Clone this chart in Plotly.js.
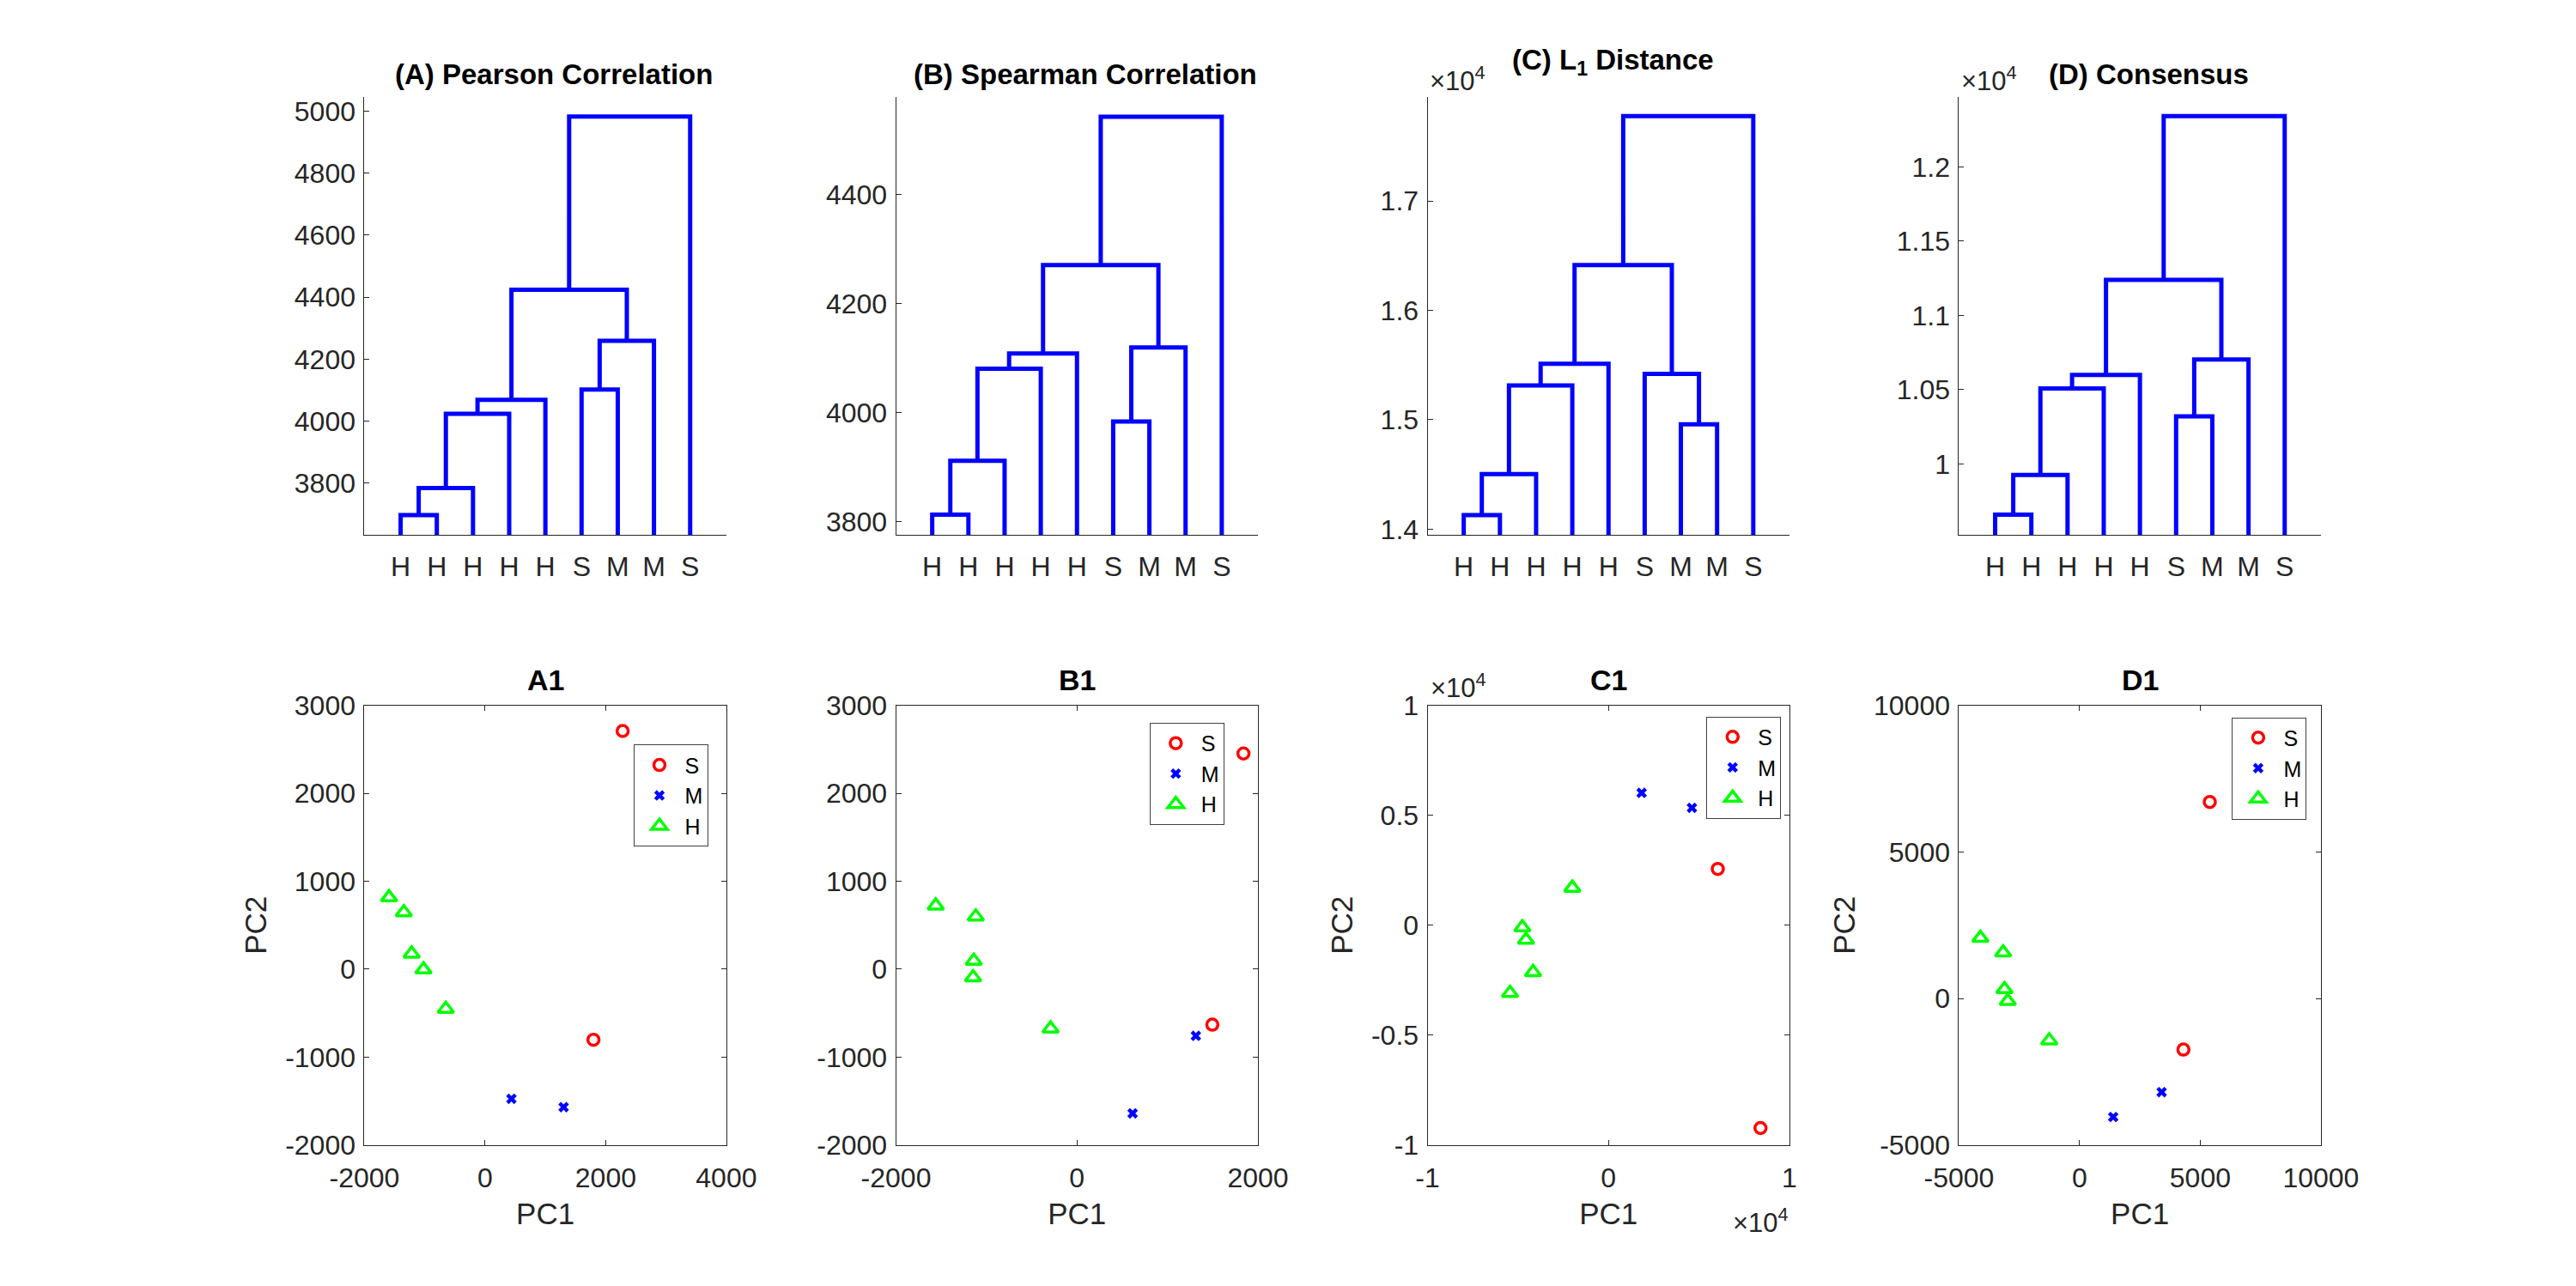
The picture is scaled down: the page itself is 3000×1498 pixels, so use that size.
<!DOCTYPE html>
<html><head><meta charset="utf-8">
<script src="https://cdn.plot.ly/plotly-3.0.1.min.js"></script>
<style>html,body{margin:0;padding:0;background:#fff}</style>
</head><body><div id="chart" style="width:3000px;height:1498px"></div>
<script>
// ---------- data ----------
const leafLabels = ['H','H','H','H','H','S','M','M','S'];
const leafPos = [1,2,3,4,5,6,7,8,9];
// merge structure (leaves 1..9, merged clusters numbered 10..17)
const treeLeftABD  = [1,10,11,12,6,14,13,16];
const treeRightABD = [2,3,4,5,7,8,15,9];
const treeLeftC    = [1,10,11,12,7,6,13,16];
const treeRightC   = [2,3,4,5,8,14,15,9];
const heightsA = [3697,3784,4024,4069,4102,4259,4424,4983];
const heightsB = [3813,3912,4081,4109,3984,4120,4271,4543];
const heightsC = [1.4129,1.4503,1.5313,1.5512,1.4959,1.5419,1.6415,1.7777]; // x 10^4
const heightsD = [0.9660,0.9927,1.0509,1.0599,1.0321,1.0704,1.1239,1.2341]; // x 10^4

const dendroTitles = ['(A) Pearson Correlation','(B) Spearman Correlation','(C) L<sub>1</sub> Distance','(D) Consensus'];
const scatterTitles = ['A1','B1','C1','D1'];
const groupNames = ['S','M','H'];

// PCA scatter values
const a1Sx = [2281,1797],  a1Sy = [2709,-803];
const a1Mx = [437,1302],   a1My = [-1475,-1570];
const a1Hx = [-1592,-1347,-1217,-1021,-651], a1Hy = [816,646,175,-4,-453];

const b1Sx = [1840,1496],  b1Sy = [2453,-632];
const b1Mx = [1314,615],   b1My = [-758,-1641];
const b1Hx = [-1561,-1119,-1141,-1148,-292], b1Hy = [722,597,94,-94,-677];

// C1 in units of 10^4
const c1Sx = [0.604,0.840], c1Sy = [0.256,-0.923];
const c1Mx = [0.183,0.461], c1My = [0.602,0.534];
const c1Hx = [-0.200,-0.476,-0.456,-0.417,-0.544], c1Hy = [0.170,-0.010,-0.067,-0.214,-0.309];

const d1Sx = [5396,4303],  d1Sy = [6704,-1744];
const d1Mx = [3401,1393],  d1My = [-3197,-4045];
const d1Hx = [-4112,-3169,-3115,-2978,-1257], d1Hy = [2063,1565,314,-90,-1435];

// tick labels
const tickA = [3800,4000,4200,4400,4600,4800,5000];
const tickB = [3800,4000,4200,4400];
const tickC = [1.4,1.5,1.6,1.7];
const tickD = [1,1.05,1.1,1.15,1.2];
const tickA1x = [-2000,0,2000,4000], tickA1y = [-2000,-1000,0,1000,2000,3000];
const tickB1x = [-2000,0,2000],      tickB1y = [-2000,-1000,0,1000,2000,3000];
const tickC1x = [-1,0,1],            tickC1y = [-1,-0.5,0,0.5,1];
const tickD1x = [-5000,0,5000,10000], tickD1y = [-5000,0,5000,10000];

// ---------- layout geometry (pixels) ----------
const FW = 3000, FH = 1498;
const colLeft = [424.4, 1043.5, 1662.5, 2281.4];
const colW = 421.5;
const topRow = [112.6, 623.1];
const botRow = [821.7, 1333.7];
const FONT = 'Liberation Sans, Arial, Helvetica, sans-serif';
const AX = '#262626';

function px(x){return x/FW;}
function py(y){return 1 - y/FH;}
function lbl(v){ return String(v); }

function dendroXY(left, right, heights){
  const nx = {}, ny = {};
  leafPos.forEach(p => { nx[p] = p; ny[p] = 0; });
  const xs = [], ys = [];
  heights.forEach((h,k) => {
    const a = left[k], b = right[k];
    xs.push(nx[a], nx[a], nx[b], nx[b], null);
    ys.push(ny[a], h, h, ny[b], null);
    nx[10+k] = (nx[a]+nx[b])/2; ny[10+k] = h;
  });
  return {x: xs, y: ys};
}

const traces = [];
const dendros = [
  dendroXY(treeLeftABD, treeRightABD, heightsA),
  dendroXY(treeLeftABD, treeRightABD, heightsB),
  dendroXY(treeLeftC, treeRightC, heightsC),
  dendroXY(treeLeftABD, treeRightABD, heightsD)
];
dendros.forEach((d,i) => {
  traces.push({type:'scatter', mode:'lines', x:d.x, y:d.y, connectgaps:false,
    xaxis: i===0?'x':'x'+(i+1), yaxis: i===0?'y':'y'+(i+1),
    line:{color:'#0000FF', width:5}, showlegend:false, hoverinfo:'skip'});
});

const scat = [
  [a1Sx,a1Sy,a1Mx,a1My,a1Hx,a1Hy],
  [b1Sx,b1Sy,b1Mx,b1My,b1Hx,b1Hy],
  [c1Sx,c1Sy,c1Mx,c1My,c1Hx,c1Hy],
  [d1Sx,d1Sy,d1Mx,d1My,d1Hx,d1Hy]
];
const markerStyles = [
  {symbol:'circle-open', color:'#FF0000', size:13, line:{width:3.5, color:'#FF0000'}},
  {symbol:'x', color:'#0000FF', size:11, line:{width:0}},
  {symbol:'triangle-up-open', color:'#00FF00', size:16, line:{width:3.5, color:'#00FF00'}}
];
scat.forEach((s,i) => {
  const ax = i+5;
  for (let g=0; g<3; g++){
    traces.push({type:'scatter', mode:'markers', x:s[2*g], y:s[2*g+1], name:groupNames[g],
      xaxis:'x'+ax, yaxis:'y'+ax, marker:markerStyles[g], cliponaxis:false,
      legend: i===0?'legend':'legend'+(i+1), hoverinfo:'skip'});
  }
});

const layout = {
  width: FW, height: FH, margin:{l:0,r:0,t:0,b:0}, paper_bgcolor:'#fff', plot_bgcolor:'#fff',
  font:{family:FONT, color:AX, size:32}, showlegend:true, annotations:[]
};

const dRanges = [[3633,5047],[3776,4580],[1.3947,1.7955],[0.9523,1.2472]];
const dTicks = [tickA, tickB, tickC, tickD];
for (let i=0;i<4;i++){
  const xn = i===0?'xaxis':'xaxis'+(i+1), yn = i===0?'yaxis':'yaxis'+(i+1);
  const yid = i===0?'y':'y'+(i+1), xid = i===0?'x':'x'+(i+1);
  layout[xn] = {domain:[px(colLeft[i]), px(colLeft[i]+colW)], anchor:yid, range:[0,10],
    tickvals:leafPos, ticktext:leafLabels, ticks:'', showline:true, linecolor:AX, linewidth:1,
    showgrid:false, zeroline:false, tickfont:{size:32, color:AX}, ticklabelstandoff:8, fixedrange:true};
  layout[yn] = {domain:[py(topRow[1]), py(topRow[0])], anchor:xid, range:dRanges[i],
    tickvals:dTicks[i], ticktext:dTicks[i].map(lbl), ticks:'inside', ticklen:6, tickwidth:1, tickcolor:AX,
    showline:true, linecolor:AX, linewidth:1, showgrid:false, zeroline:false,
    tickfont:{size:32, color:AX}, ticklabelstandoff:3, fixedrange:true};
  layout.annotations.push({xref:'paper', yref:'paper', x:px(colLeft[i]+colW/2+ (i===2?5:10)), y:py(i===2?72:86),
    xanchor:'center', yanchor:'middle', showarrow:false, text:'<b>'+dendroTitles[i]+'</b>',
    font:{family:FONT, size:33, color:'#000'}});
}

const sxR = [[-2000,4000],[-2000,2000],[-1,1],[-5000,10000]];
const syR = [[-2000,3000],[-2000,3000],[-1,1],[-5000,10000]];
const sxT = [tickA1x, tickB1x, tickC1x, tickD1x];
const syT = [tickA1y, tickB1y, tickC1y, tickD1y];
const legendPos = [[737.5,867.3],[1338.8,841.9],[1987.3,834.6],[2599.4,835.5]];
for (let i=0;i<4;i++){
  const ax = i+5;
  const common = {ticks:'inside', ticklen:6, tickwidth:1, tickcolor:AX, showline:true, mirror:'ticks',
    linecolor:AX, linewidth:1, showgrid:false, zeroline:false, tickfont:{size:32, color:AX}, fixedrange:true};
  layout['xaxis'+ax] = Object.assign({}, common, {domain:[px(colLeft[i]), px(colLeft[i]+colW)], anchor:'y'+ax,
    range:sxR[i], tickvals:sxT[i], ticktext:sxT[i].map(lbl), ticklabelstandoff:10,
    title:{text:'PC1', font:{size:35, color:AX}, standoff:12}});
  const yax = Object.assign({}, common, {domain:[py(botRow[1]), py(botRow[0])], anchor:'x'+ax,
    range:syR[i], tickvals:syT[i], ticktext:syT[i].map(lbl), ticklabelstandoff:3});
  if (i !== 1) yax.title = {text:'PC2', font:{size:35, color:AX}, standoff:10};
  layout['yaxis'+ax] = yax;
  const lg = {x:px(legendPos[i][0]), y:py(legendPos[i][1]), xanchor:'left', yanchor:'top',
    bgcolor:'#fff', bordercolor:'#404040', borderwidth:1, font:{family:FONT, size:25, color:'#000'},
    tracegroupgap:0, itemwidth:49};
  layout[i===0?'legend':'legend'+(i+1)] = lg;
  layout.annotations.push({xref:'paper', yref:'paper', x:px(colLeft[i]+colW/2), y:py(791.7),
    xanchor:'center', yanchor:'middle', showarrow:false, text:'<b>'+scatterTitles[i]+'</b>',
    font:{family:FONT, size:34, color:'#000'}});
}

// exponent labels
const expo = '\u00d710<sup>4</sup>';
layout.annotations.push({xref:'paper', yref:'paper', x:px(1663), y:py(92), xanchor:'left', yanchor:'middle',
  showarrow:false, text:expo, font:{family:FONT, size:31, color:AX}});
layout.annotations.push({xref:'paper', yref:'paper', x:px(2282), y:py(92), xanchor:'left', yanchor:'middle',
  showarrow:false, text:expo, font:{family:FONT, size:31, color:AX}});
layout.annotations.push({xref:'paper', yref:'paper', x:px(1664), y:py(799), xanchor:'left', yanchor:'middle',
  showarrow:false, text:expo, font:{family:FONT, size:31, color:AX}});
layout.annotations.push({xref:'paper', yref:'paper', x:px(2085), y:py(1422), xanchor:'right', yanchor:'middle',
  showarrow:false, text:expo, font:{family:FONT, size:31, color:AX}});

Plotly.newPlot('chart', traces, layout, {displayModeBar:false, staticPlot:true});
</script>
</body></html>
